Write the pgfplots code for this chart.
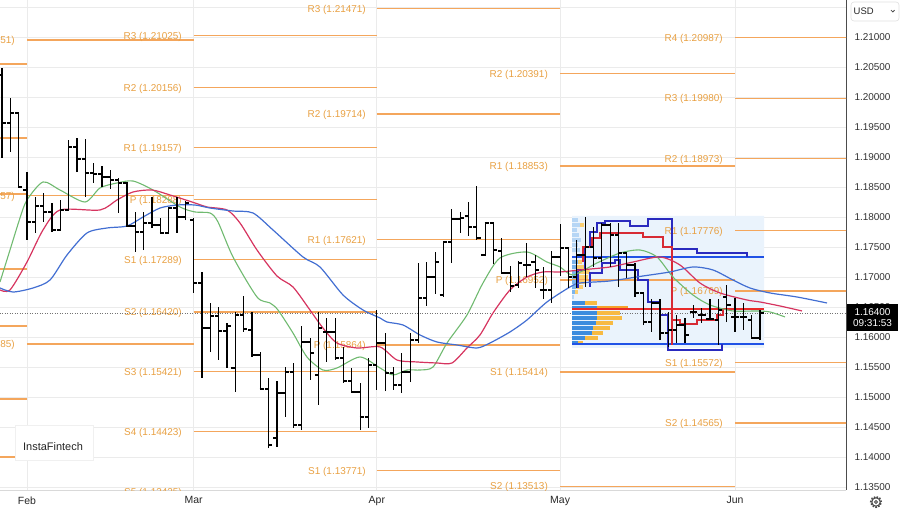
\documentclass[border=0pt]{standalone}
\usepackage{fontspec}
\setmainfont{Liberation Sans}
\usepackage{pgfplots}
\pgfplotsset{compat=1.18}
\usepackage{pgfplotstable}

\definecolor{pivline}{RGB}{244,166,92}
\definecolor{pivtext}{RGB}{232,160,66}
\definecolor{magreen}{RGB}{112,186,112}
\definecolor{mared}{RGB}{214,52,95}
\definecolor{mablue}{RGB}{66,110,210}
\definecolor{stepblue}{RGB}{42,42,190}
\definecolor{thickblue}{RGB}{32,82,230}
\definecolor{stepred}{RGB}{215,42,52}
\definecolor{thickred}{RGB}{232,42,42}
\definecolor{vlight}{RGB}{182,214,245}
\definecolor{vmid}{RGB}{122,180,236}
\definecolor{vstrong}{RGB}{60,140,222}
\definecolor{vorange}{RGB}{247,186,66}
\definecolor{vorlight}{RGB}{250,206,112}
\definecolor{vpoc}{RGB}{245,162,42}
\definecolor{vpbg}{RGB}{234,243,252}

\tikzset{pivlab/.style={anchor=east, text=pivtext, font=\fontsize{10}{12}\selectfont, inner sep=0pt, yshift=-1bp}}

\pgfdeclareplotmark{ohlco}{\pgfpathmoveto{\pgfpoint{-3.8bp}{0bp}}\pgfpathlineto{\pgfpoint{0.5bp}{0bp}}\pgfusepathqstroke}
\pgfdeclareplotmark{ohlcc}{\pgfpathmoveto{\pgfpoint{-0.5bp}{0bp}}\pgfpathlineto{\pgfpoint{3.8bp}{0bp}}\pgfusepathqstroke}
\pgfdeclareplotmark{nomark}{}

\pgfplotstableread{
i o h l c
-3 1.20367 1.20484 1.18984 1.19567
-2 1.19567 1.19984 1.19084 1.19734
-1 1.19734 1.19750 1.18500 1.18500
0 1.18450 1.18750 1.17617 1.17917
1 1.17917 1.18334 1.17734 1.18184
2 1.18184 1.18400 1.17917 1.18084
3 1.18084 1.18234 1.17750 1.17784
4 1.17784 1.18284 1.17784 1.18117
5 1.18117 1.19284 1.18117 1.19167
6 1.19167 1.19317 1.18750 1.18967
7 1.18967 1.19300 1.18334 1.18734
8 1.18734 1.18900 1.18567 1.18717
9 1.18717 1.18850 1.18500 1.18667
10 1.18667 1.18784 1.18467 1.18617
11 1.18617 1.18650 1.18067 1.18567
12 1.18567 1.18584 1.17850 1.17850
13 1.17850 1.18084 1.17417 1.17750
14 1.17750 1.18084 1.17450 1.17900
15 1.17900 1.18334 1.17817 1.17867
16 1.17867 1.17984 1.17734 1.17734
17 1.17734 1.18167 1.17734 1.18150
18 1.18150 1.18334 1.17734 1.18000
19 1.18000 1.18267 1.17950 1.18234
20 1.17950 1.17984 1.16734 1.16900
21 1.16900 1.17084 1.15317 1.16150
22 1.16150 1.16567 1.15750 1.16350
23 1.16350 1.16500 1.15617 1.16100
24 1.16100 1.16234 1.15484 1.16184
25 1.15484 1.16417 1.15084 1.16367
26 1.16367 1.16684 1.16084 1.16134
27 1.16117 1.16417 1.15667 1.15700
28 1.15700 1.15750 1.15117 1.15134
29 1.15134 1.15317 1.14150 1.14200
30 1.14317 1.15267 1.14167 1.15067
31 1.15067 1.15500 1.14667 1.15417
32 1.15417 1.15567 1.14484 1.14534
33 1.14534 1.16184 1.14450 1.15917
34 1.15917 1.15984 1.15284 1.15734
35 1.15367 1.16417 1.14867 1.16150
36 1.16084 1.16317 1.15584 1.16084
37 1.16084 1.16317 1.15617 1.15650
38 1.15650 1.15834 1.15234 1.15267
39 1.15267 1.15484 1.15067 1.15084
40 1.15084 1.15234 1.14450 1.14667
41 1.14667 1.15650 1.14484 1.15534
42 1.15534 1.16450 1.15117 1.15900
43 1.15900 1.16067 1.15100 1.15400
44 1.15400 1.15500 1.15117 1.15200
45 1.15200 1.15734 1.15067 1.15417
46 1.15417 1.16067 1.15250 1.15950
47 1.15950 1.17234 1.15900 1.16650
48 1.16650 1.17250 1.16517 1.17000
49 1.17000 1.17417 1.16717 1.17250
50 1.16700 1.17600 1.16667 1.17584
51 1.17584 1.18134 1.17234 1.17967
52 1.17967 1.18084 1.17734 1.17984
53 1.18017 1.18250 1.17684 1.17834
54 1.17834 1.18517 1.17617 1.17650
55 1.17367 1.17917 1.17350 1.17900
56 1.17900 1.17917 1.17217 1.17450
57 1.17434 1.17650 1.17067 1.17067
58 1.17067 1.17184 1.16750 1.16850
59 1.16867 1.17267 1.16817 1.17234
60 1.17200 1.17567 1.17000 1.17200
61 1.17250 1.17367 1.16817 1.17117
62 1.16784 1.17167 1.16634 1.16784
63 1.16784 1.17434 1.16567 1.17334
64 1.17334 1.17884 1.17017 1.17484
65 1.17484 1.17500 1.16817 1.17000
66 1.17000 1.17617 1.16817 1.17367
67 1.17367 1.18000 1.16834 1.17500
68 1.17500 1.17834 1.17167 1.17317
69 1.17317 1.17900 1.17250 1.17867
70 1.17867 1.17900 1.17167 1.17700
71 1.17700 1.17900 1.16834 1.17400
72 1.17400 1.17417 1.16984 1.17200
73 1.17200 1.17234 1.16667 1.16734
74 1.16734 1.16750 1.16200 1.16250
75 1.16250 1.16634 1.16084 1.16567
76 1.16567 1.16634 1.15950 1.16067
77 1.16067 1.16417 1.15834 1.16117
78 1.16117 1.16367 1.15900 1.16200
79 1.16200 1.16317 1.15900 1.16034
80 1.16417 1.16534 1.16317 1.16417
81 1.16367 1.16484 1.16234 1.16367
82 1.16300 1.16634 1.16284 1.16300
83 1.16284 1.16634 1.15867 1.16450
84 1.16667 1.16867 1.16250 1.16534
85 1.16334 1.16650 1.16084 1.16334
86 1.16334 1.16567 1.16117 1.16334
87 1.16284 1.16367 1.15984 1.15984
88 1.15984 1.16450 1.15950 1.16400
}\bars

\pgfplotstableread{
x y
-3.241 1.16917
-2.041 1.17450
-0.840 1.17984
0 1.18284
1.921 1.18584
3.962 1.18450
6.963 1.18250
8.763 1.18484
10.80 1.18567
12.73 1.18600
15.13 1.18450
18.37 1.18167
20.17 1.18084
21.97 1.18067
22.93 1.17917
24.73 1.17334
27.61 1.16667
29.17 1.16567
30.13 1.16450
31.93 1.16067
33.61 1.15667
35.53 1.15450
37.21 1.15484
39.98 1.15667
42.38 1.15484
43.94 1.15367
45.62 1.15450
47.18 1.15450
48.74 1.15500
50.42 1.15900
52.82 1.16367
54.74 1.16900
56.78 1.17317
60.02 1.17417
62.42 1.17250
63.99 1.17167
65.55 1.17034
68.43 1.17234
71.19 1.17400
73.59 1.17450
75.63 1.17334
77.55 1.17000
79.95 1.16700
81.99 1.16534
84.75 1.16434
87.64 1.16434
89.20 1.16417
91.00 1.16334
}\gma

\pgfplotstableread{
x y
-3.241 1.16784
-2.041 1.16784
0 1.17250
1.921 1.17784
3.962 1.18117
8.763 1.18117
10.80 1.18284
12.73 1.18417
15.01 1.18450
17.17 1.18367
20.17 1.18234
21.61 1.18167
24.01 1.18117
25.57 1.17900
27.61 1.17450
30.01 1.17017
31.93 1.16834
33.97 1.16450
35.53 1.16150
37.21 1.15900
39.62 1.15817
42.38 1.15834
44.42 1.15617
46.82 1.15584
49.22 1.15567
51.02 1.15567
52.82 1.15817
54.38 1.16034
55.94 1.16400
57.98 1.16784
60.02 1.17000
61.94 1.17084
63.99 1.17084
66.39 1.17117
69.99 1.17167
72.75 1.17250
75.99 1.17334
78.39 1.17200
80.79 1.16900
83.19 1.16734
86.43 1.16617
87.99 1.16584
90.40 1.16517
93.04 1.16434
}\rma

\pgfplotstableread{
x y
-3.241 1.16817
-1.681 1.16750
0.720 1.16817
2.761 1.16950
4.802 1.17367
7.203 1.17734
9.604 1.17817
12.00 1.17850
13.93 1.18000
15.97 1.18150
18.01 1.18200
20.17 1.18200
21.97 1.18150
24.73 1.18100
27.13 1.18067
29.53 1.17784
33.13 1.17334
35.17 1.17167
37.94 1.16700
40.34 1.16450
42.38 1.16317
43.22 1.16250
45.14 1.16200
47.18 1.16034
49.22 1.15917
51.62 1.15867
54.02 1.15817
55.58 1.15900
57.98 1.16084
60.02 1.16284
62.42 1.16584
65.19 1.16834
66.39 1.16900
69.99 1.16934
73.95 1.17017
77.19 1.17084
79.95 1.17167
82.35 1.17117
84.75 1.16950
86.79 1.16817
89.20 1.16734
92.44 1.16667
96.04 1.16567
}\bma

\pgfplotstableread{
x y
66.15 1.16817
66.15 1.17117
66.99 1.17117
66.99 1.17500
67.59 1.17500
67.59 1.17750
68.43 1.17750
68.43 1.17900
69.39 1.17900
69.39 1.17934
72.39 1.17934
72.39 1.17850
74.55 1.17850
74.55 1.17967
77.43 1.17967
77.43 1.17467
80.43 1.17467
80.43 1.17400
86.43 1.17400
86.43 1.17334
}\bup

\pgfplotstableread{
x y
67.59 1.16834
67.59 1.17067
69.03 1.17067
69.03 1.17234
70.59 1.17234
70.59 1.17284
71.19 1.17284
71.19 1.17117
73.35 1.17117
73.35 1.16950
74.55 1.16950
74.55 1.16584
75.99 1.16584
75.99 1.16367
76.95 1.16367
76.95 1.15784
83.43 1.15784
83.43 1.15884
}\blo

\pgfplotstableread{
x y
66.75 1.17250
66.75 1.17500
67.83 1.17500
67.83 1.17650
68.79 1.17650
68.79 1.17734
73.95 1.17734
73.95 1.17667
76.35 1.17667
76.35 1.17500
77.43 1.17500
77.43 1.15867
}\rup

\pgfplotstableread{
x y
77.43 1.16284
78.39 1.16284
78.39 1.16217
80.43 1.16217
80.43 1.16284
82.83 1.16284
82.83 1.16367
83.55 1.16367
83.55 1.16467
}\rlo

\newcommand\pv[3]{\addplot[pivline, line width=1.4bp] coordinates {(#1,#3) (#2,#3)};}
\newcommand\pl[3]{\node[pivlab] at (axis cs:#1,#2) {#3};}
\newcommand\vr[4]{\addplot[draw=#4, line width=4.2bp] coordinates {(#2,#1) (#3,#1)};}

\begin{document}
\begin{tikzpicture}
\useasboundingbox (0,0) rectangle (900bp,510bp);
\begin{axis}[
  at={(0bp,20bp)}, anchor=south west,
  scale only axis, width=846bp, height=490bp,
  xmin=-3.241, xmax=98.32, ymin=1.1345, ymax=1.21617,
  axis x line*=bottom, axis y line*=right,
  x axis line style={draw=black!15, line width=0.8bp, -},
  y axis line style={draw=black!70, line width=1bp, -},
  xtick={0,20,42,64,85}, xticklabels={Feb,Mar,Apr,May,Jun},
  ytick={1.135,1.14,1.145,1.15,1.155,1.16,1.165,1.17,1.175,1.18,1.185,1.19,1.195,1.2,1.205,1.21},
  extra y ticks={1.215}, extra y tick labels={},
  scaled y ticks=false,
  grid=major, major grid style={draw=black!8, line width=0.8bp},
  tick style={draw=none},
  yticklabel style={font=\fontsize{10}{12}\selectfont, text=black!80, xshift=5bp,
    /pgf/number format/fixed, /pgf/number format/fixed zerofill, /pgf/number format/precision=5},
  xticklabel style={font=\fontsize{10.5}{12}\selectfont, text=black!85, yshift=-3bp},
  /pgf/number format/assume math mode=true,
]
% volume-profile background
\addplot[fill=vpbg, draw=none] coordinates {(65.43,1.15817) (88.48,1.15817) (88.48,1.18017) (65.43,1.18017) (65.43,1.15817)};

% pivot lines: Jan
\pv{-3.4}{0}{1.20550}\pv{-3.4}{0}{1.19317}\pv{-3.4}{0}{1.18384}\pv{-3.4}{0}{1.17134}
\pv{-3.4}{0}{1.16184}\pv{-3.4}{0}{1.14967}\pv{-3.4}{0}{1.14000}
% Feb
\pv{0}{20}{1.20951}\pv{0}{20}{1.18357}\pv{0}{20}{1.15885}
% Mar
\pv{20}{42}{1.21025}\pv{20}{42}{1.20156}\pv{20}{42}{1.19157}\pv{20}{42}{1.18288}
\pv{20}{42}{1.17289}\pv{20}{42}{1.16420}\pv{20}{42}{1.15421}\pv{20}{42}{1.14423}\pv{20}{42}{1.13425}
% Apr
\pv{42}{64}{1.21471}\pv{42}{64}{1.19714}\pv{42}{64}{1.17621}\pv{42}{64}{1.15864}\pv{42}{64}{1.13771}
% May
\pv{64}{85}{1.20391}\pv{64}{85}{1.18853}\pv{64}{85}{1.16952}\pv{64}{85}{1.15414}\pv{64}{85}{1.13513}
% Jun
\pv{85}{99}{1.20987}\pv{85}{99}{1.19980}\pv{85}{99}{1.18973}\pv{85}{99}{1.17776}
\pv{85}{99}{1.16769}\pv{85}{99}{1.15572}\pv{85}{99}{1.14565}

% pivot labels
\pl{-1.44}{1.20951}{R1 (1.20951)}\pl{-1.44}{1.18357}{P (1.18357)}\pl{-1.44}{1.15885}{S1 (1.15885)}
\pl{18.61}{1.21025}{R3 (1.21025)}\pl{18.61}{1.20156}{R2 (1.20156)}\pl{18.61}{1.19157}{R1 (1.19157)}
\pl{18.61}{1.18288}{P (1.18288)}\pl{18.61}{1.17289}{S1 (1.17289)}\pl{18.61}{1.16420}{S2 (1.16420)}
\pl{18.61}{1.15421}{S3 (1.15421)}\pl{18.61}{1.14423}{S4 (1.14423)}\pl{18.61}{1.13425}{S5 (1.13425)}
\pl{40.70}{1.21471}{R3 (1.21471)}\pl{40.70}{1.19714}{R2 (1.19714)}\pl{40.70}{1.17621}{R1 (1.17621)}
\pl{40.70}{1.15864}{P (1.15864)}\pl{40.70}{1.13771}{S1 (1.13771)}
\pl{62.55}{1.20391}{R2 (1.20391)}\pl{62.55}{1.18853}{R1 (1.18853)}\pl{62.55}{1.16952}{P (1.16952)}
\pl{62.55}{1.15414}{S1 (1.15414)}\pl{62.55}{1.13513}{S2 (1.13513)}
\pl{83.55}{1.20987}{R4 (1.20987)}\pl{83.55}{1.19980}{R3 (1.19980)}\pl{83.55}{1.18973}{R2 (1.18973)}
\pl{83.55}{1.17776}{R1 (1.17776)}\pl{83.55}{1.16769}{P (1.16769)}\pl{83.55}{1.15572}{S1 (1.15572)}
\pl{83.55}{1.14565}{S2 (1.14565)}

% current price dotted line
\addplot[black!55, line width=0.8bp, dash pattern=on 1bp off 1.5bp] coordinates {(-3.3,1.16400) (98.4,1.16400)};

% volume profile rows (upper)
\vr{1.17950}{65.43}{66.15}{vlight}
\vr{1.17867}{65.43}{66.39}{vlight}\vr{1.17867}{66.39}{66.87}{vorlight}
\vr{1.17784}{65.43}{66.03}{vlight}
\vr{1.17700}{65.43}{66.27}{vlight}
\vr{1.17617}{65.43}{66.51}{vlight}
\vr{1.17534}{65.43}{66.15}{vlight}
\vr{1.17450}{65.43}{66.39}{vlight}
\vr{1.17250}{65.43}{66.15}{vmid}\vr{1.17250}{66.15}{66.63}{vorlight}
\vr{1.17167}{65.43}{66.03}{vmid}\vr{1.17167}{66.03}{66.99}{vorlight}
\vr{1.17084}{65.43}{66.27}{vmid}\vr{1.17084}{66.27}{67.59}{vorlight}
\vr{1.17000}{65.43}{65.91}{vmid}\vr{1.17000}{65.91}{67.35}{vorlight}
\vr{1.16917}{65.43}{66.15}{vmid}\vr{1.16917}{66.15}{67.11}{vorlight}
\vr{1.16834}{65.43}{65.91}{vmid}\vr{1.16834}{65.91}{66.75}{vorlight}
\vr{1.16750}{65.43}{65.79}{vmid}\vr{1.16750}{65.79}{66.15}{vorlight}
\vr{1.16667}{65.43}{65.67}{vlight}
% volume profile rows (lower)
\vr{1.16567}{65.43}{66.99}{vstrong}\vr{1.16567}{66.99}{68.43}{vorange}
\vr{1.16484}{65.43}{68.43}{vstrong}\vr{1.16484}{68.43}{72.15}{vpoc}
\vr{1.16400}{65.43}{68.43}{vstrong}\vr{1.16400}{68.43}{71.19}{vorange}
\vr{1.16317}{65.43}{68.43}{vstrong}\vr{1.16317}{68.43}{71.43}{vorange}
\vr{1.16234}{65.43}{68.31}{vstrong}\vr{1.16234}{68.31}{70.35}{vorange}
\vr{1.16150}{65.43}{67.95}{vstrong}\vr{1.16150}{67.95}{69.99}{vorange}
\vr{1.16067}{65.43}{67.83}{vstrong}\vr{1.16067}{67.83}{69.15}{vorange}
\vr{1.15984}{65.43}{66.99}{vstrong}\vr{1.15984}{66.99}{68.55}{vorange}
\vr{1.15900}{65.43}{66.15}{vstrong}\vr{1.15900}{66.15}{66.75}{vorange}

% range / step lines
\addplot[thickblue, line width=2.2bp] coordinates {(65.43,1.17339) (88.48,1.17339)};
\addplot[thickblue, line width=2.2bp] coordinates {(65.43,1.15878) (88.48,1.15878)};
\addplot[thickred, line width=2.2bp] coordinates {(65.43,1.16462) (88.48,1.16462)};
\addplot[stepblue, line width=1.3bp] table[x=x,y=y] {\bup};
\addplot[stepblue, line width=1.3bp] table[x=x,y=y] {\blo};
\addplot[stepred, line width=1.3bp] table[x=x,y=y] {\rup};
\addplot[stepred, line width=1.3bp] table[x=x,y=y] {\rlo};

% moving averages
\addplot[magreen, line width=1.1bp, smooth, tension=0.45] table[x=x,y=y] {\gma};
\addplot[mared, line width=1.2bp, smooth, tension=0.45] table[x=x,y=y] {\rma};
\addplot[mablue, line width=1.2bp, smooth, tension=0.45] table[x=x,y=y] {\bma};

% OHLC bars
\addplot[black, only marks, mark=nomark, error bars/.cd, y dir=plus, y explicit, error mark=none,
  error bar style={line width=1.2bp, black}]
  table[x=i, y=l, y error expr=\thisrow{h}-\thisrow{l}] {\bars};
\addplot[black, only marks, mark=ohlco, mark options={line width=1.2bp, black}] table[x=i, y=o] {\bars};
\addplot[black, only marks, mark=ohlcc, mark options={line width=1.2bp, black}] table[x=i, y=c] {\bars};
\end{axis}

% watermark
\filldraw[fill=white, draw=black!6, line width=0.6bp] (15bp,50bp) rectangle (93bp,85bp);
\node[font=\fontsize{11}{13}\selectfont, text=black!85] at (53bp,63bp) {InstaFintech};

% USD selector
\filldraw[fill=white, draw=black!12, line width=0.6bp, rounded corners=3bp] (851bp,489bp) rectangle (899bp,508bp);
\node[anchor=west, font=\fontsize{9.5}{11}\selectfont, text=black!85, inner sep=0pt] at (853.5bp,498.5bp) {USD};
\draw[black!70, line width=0.8bp] (891bp,499.8bp) -- (892.8bp,498bp) -- (894.6bp,499.8bp);

% current price box
\fill[black] (847bp,179bp) rectangle (898bp,206bp);
\node[font=\fontsize{10}{12}\selectfont, text=white, inner sep=0pt] at (872.5bp,198bp) {1.16400};
\node[font=\fontsize{10}{12}\selectfont, text=white, inner sep=0pt] at (872.5bp,187bp) {09:31:53};

% settings gear
\draw[black!70, line width=1.8bp, dash pattern=on 1.6bp off 1.3bp] (876bp,8bp) circle (5.2bp);
\filldraw[fill=white, draw=black!70, line width=1bp] (876bp,8bp) circle (4.2bp);
\draw[black!70, line width=0.9bp] (876bp,8bp) circle (1.6bp);
\end{tikzpicture}
\end{document}
